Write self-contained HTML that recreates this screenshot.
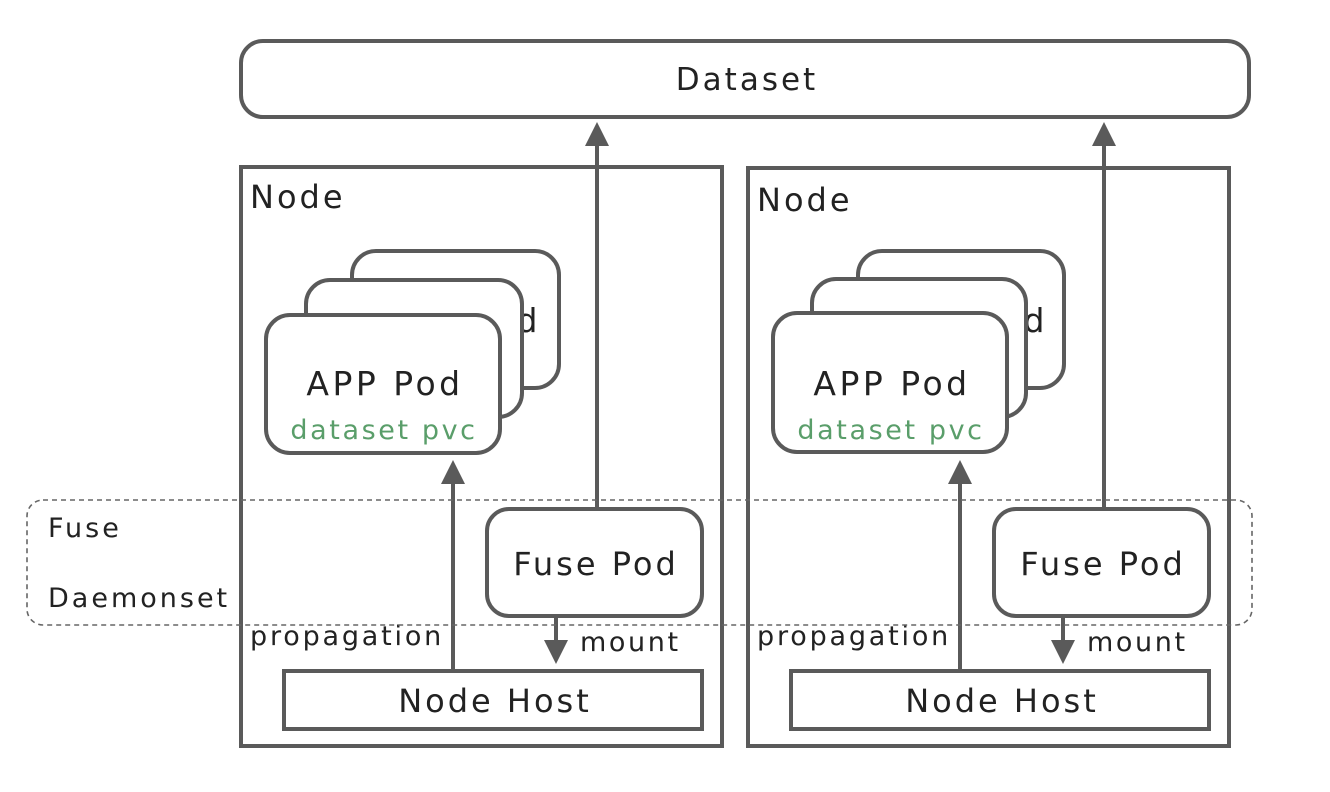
<!DOCTYPE html>
<html><head><meta charset="utf-8"><style>
html,body{margin:0;padding:0;background:#fff;}
svg{display:block;}
text{font-family:"DejaVu Sans","Liberation Sans",sans-serif;fill:#222;letter-spacing:3px;}
</style></head><body>
<svg width="1330" height="792" viewBox="0 0 1330 792" xmlns="http://www.w3.org/2000/svg">
<defs>
<marker id="ah" markerWidth="6" markerHeight="6" refX="3" refY="3" orient="auto" markerUnits="strokeWidth">
<path d="M0,0 L6,3 L0,6 z" fill="#5a5a5a"/>
</marker>
</defs>
<g stroke="#5a5a5a" stroke-width="4" fill="#fff">
<rect x="241" y="41" width="1008" height="76" rx="22"/>
<text x="747" y="90" text-anchor="middle" font-size="31" stroke="none">Dataset</text>

<!-- Left node -->
<rect x="241" y="167" width="481" height="579" fill="none"/>
<rect x="352" y="251" width="207" height="137" rx="24"/>
<text x="541" y="332" text-anchor="end" font-size="33" stroke="none" style="letter-spacing:3.5px">APP Pod</text>
<rect x="306" y="280" width="216" height="137" rx="24"/>
<rect x="266" y="315" width="234" height="138" rx="24"/>
<text x="385" y="395" text-anchor="middle" font-size="33" stroke="none" style="letter-spacing:3.5px">APP Pod</text>
<text x="384" y="439" text-anchor="middle" font-size="27" stroke="none" style="fill:#5a9e6a;letter-spacing:2.6px">dataset pvc</text>
<rect x="487" y="509" width="215" height="107" rx="22"/>
<text x="596" y="575" text-anchor="middle" font-size="32" stroke="none">Fuse Pod</text>
<rect x="284" y="671" width="418" height="58" fill="none"/>
<text x="495" y="712" text-anchor="middle" font-size="32" stroke="none">Node Host</text>
<line x1="597" y1="507" x2="597" y2="134" marker-end="url(#ah)"/>
<line x1="453" y1="669" x2="453" y2="472" marker-end="url(#ah)"/>
<line x1="556" y1="618" x2="556" y2="652" marker-end="url(#ah)"/>
<text x="250" y="645" font-size="27" stroke="none" style="letter-spacing:2.8px">propagation</text>
<text x="580" y="651" font-size="27" stroke="none" style="letter-spacing:2.6px">mount</text>

<!-- Right node -->
<rect x="748" y="168" width="481" height="578" fill="none"/>
<rect x="858" y="251" width="206" height="137" rx="24"/>
<text x="1048" y="332" text-anchor="end" font-size="33" stroke="none" style="letter-spacing:3.5px">APP Pod</text>
<rect x="812" y="279" width="214" height="138" rx="24"/>
<rect x="773" y="313" width="234" height="139" rx="24"/>
<text x="892" y="395" text-anchor="middle" font-size="33" stroke="none" style="letter-spacing:3.5px">APP Pod</text>
<text x="891" y="439" text-anchor="middle" font-size="27" stroke="none" style="fill:#5a9e6a;letter-spacing:2.6px">dataset pvc</text>
<rect x="994" y="509" width="215" height="107" rx="22"/>
<text x="1103" y="575" text-anchor="middle" font-size="32" stroke="none">Fuse Pod</text>
<rect x="791" y="671" width="418" height="58" fill="none"/>
<text x="1002" y="712" text-anchor="middle" font-size="32" stroke="none">Node Host</text>
<line x1="1104" y1="507" x2="1104" y2="134" marker-end="url(#ah)"/>
<line x1="960" y1="669" x2="960" y2="472" marker-end="url(#ah)"/>
<line x1="1063" y1="618" x2="1063" y2="652" marker-end="url(#ah)"/>
<text x="757" y="645" font-size="27" stroke="none" style="letter-spacing:2.8px">propagation</text>
<text x="1087" y="651" font-size="27" stroke="none" style="letter-spacing:2.6px">mount</text>
</g>
<rect x="27" y="500" width="1225" height="125" rx="16" fill="none" stroke="#666" stroke-width="1.6" stroke-dasharray="5,4"/>
<text x="48" y="537" font-size="27">Fuse</text>
<text x="48" y="607" font-size="27">Daemonset</text>
<text x="250" y="208" font-size="32">Node</text>
<text x="757" y="211" font-size="32">Node</text>
</svg>
</body></html>
